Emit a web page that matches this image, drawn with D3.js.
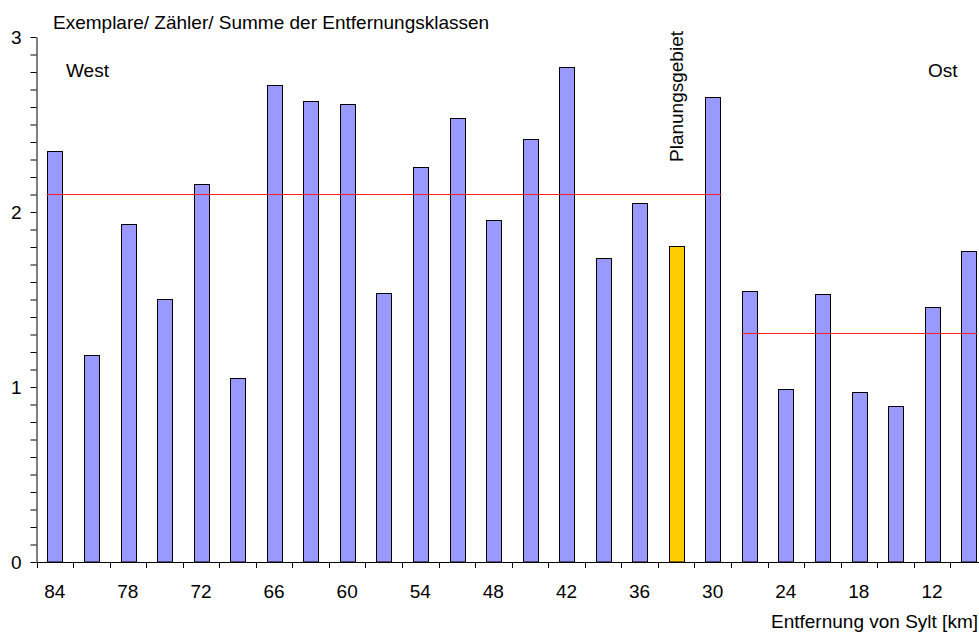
<!DOCTYPE html>
<html>
<head>
<meta charset="utf-8">
<script src="https://cdn.jsdelivr.net/npm/d3@7"></script>
<style>
  body { margin: 0; background: #fff; }
  text { font-family: "Liberation Sans", Arial, sans-serif; font-size: 19px; fill: #000; }
</style>
</head>
<body>
<div id="chart"></div>
<script>
// distance classes (km from Sylt), west -> east
var km = [84, 81, 78, 75, 72, 69, 66, 63, 60, 57, 54, 51, 48, 45, 42, 39, 36, 33, 30, 27, 24, 21, 18, 15, 12, 9];
var values = [2.35, 1.185, 1.93, 1.505, 2.16, 1.05, 2.725, 2.635, 2.615, 1.54, 2.255, 2.54, 1.955,
  2.415, 2.83, 1.735, 2.05, 1.805, 2.655, 1.55, 0.99, 1.53, 0.97, 0.89, 1.455, 1.775];
var westKm = [84, 81, 78, 75, 72, 69, 66, 63, 60, 57, 54, 51, 48, 45, 42, 39, 36, 33, 30];
var eastKm = [27, 24, 21, 18, 15, 12, 9];
var planKm = 33;
var xTickLabels = [84, 78, 72, 66, 60, 54, 48, 42, 36, 30, 24, 18, 12];
var yTicks = [0, 1, 2, 3];

var data = km.map(function (k, i) { return { km: k, value: values[i] }; });

var W = 979, H = 634;
var plotLeft = 36.5, plotRight = 986.8, plotTop = 37, plotBottom = 562;

var svg = d3.select("#chart").append("svg").attr("width", W).attr("height", H);

// scales
var slot = d3.scaleBand().domain(km).range([plotLeft, plotRight]);
var y = d3.scaleLinear().domain([0, 3]).range([plotBottom, plotTop]);
var barW = slot.bandwidth() * 0.4;
function barX(k) { return slot(k) + (slot.bandwidth() - barW) / 2; }

// bars
svg.append("g").selectAll("rect")
  .data(data)
  .join("rect")
  .attr("x", d => Math.round(barX(d.km)) + 0.5)
  .attr("y", d => Math.round(y(d.value)) + 0.5)
  .attr("width", Math.round(barW))
  .attr("height", d => y(0) - Math.round(y(d.value)) - 0.5)
  .attr("fill", d => d.km === planKm ? "#ffcc00" : "#9999ff")
  .attr("stroke", "#000")
  .attr("stroke-width", 1);

// mean lines for west and east
function meanLine(keys) {
  var m = d3.mean(data.filter(d => keys.indexOf(d.km) >= 0), d => d.value);
  var x1 = barX(keys[0]), x2 = barX(keys[keys.length - 1]) + barW + 1;
  svg.append("line")
    .attr("x1", x1).attr("x2", x2)
    .attr("y1", Math.round(y(m)) + 0.5).attr("y2", Math.round(y(m)) + 0.5)
    .attr("stroke", "#ff2020").attr("stroke-width", 1)
    .attr("shape-rendering", "crispEdges");
}
meanLine(westKm);
meanLine(eastKm);

// y axis
var yAxis = d3.axisLeft(y)
  .tickValues(d3.range(0, 31).map(i => i / 10))
  .tickFormat(d => yTicks.indexOf(d) >= 0 ? d : "")
  .tickSize(6).tickSizeOuter(0).tickPadding(9);
var yAxisG = svg.append("g").attr("transform", "translate(" + plotLeft + ",0)").call(yAxis);
yAxisG.attr("font-family", null).attr("font-size", null);
yAxisG.selectAll("line").attr("stroke", "#000");
yAxisG.select(".domain").attr("stroke", "#000");

// x axis (ticks between classes, labels on every other class)
var xg = svg.append("g");
xg.append("line")
  .attr("x1", plotLeft).attr("x2", plotRight)
  .attr("y1", plotBottom + 0.5).attr("y2", plotBottom + 0.5)
  .attr("stroke", "#000");
xg.selectAll("line.tick")
  .data(km.concat(["end"]))
  .join("line")
  .attr("class", "tick")
  .attr("x1", d => Math.round(d === "end" ? plotRight : slot(d)) + 0.5)
  .attr("x2", d => Math.round(d === "end" ? plotRight : slot(d)) + 0.5)
  .attr("y1", plotBottom).attr("y2", plotBottom + 6)
  .attr("stroke", "#000");
xg.selectAll("text")
  .data(xTickLabels)
  .join("text")
  .attr("x", d => slot(d) + slot.bandwidth() / 2)
  .attr("y", 598)
  .attr("text-anchor", "middle")
  .text(d => d);

// titles and annotations
svg.append("text").attr("x", 53).attr("y", 28.5).text("Exemplare/ Zähler/ Summe der Entfernungsklassen");
svg.append("text").attr("x", 978).attr("y", 627.5).attr("text-anchor", "end").text("Entfernung von Sylt [km]");
svg.append("text").attr("x", 66).attr("y", 76.5).text("West");
svg.append("text").attr("x", 928).attr("y", 76.5).text("Ost");
svg.append("text")
  .attr("transform", "translate(" + 683 + "," + 162 + ") rotate(-90)")
  .text("Planungsgebiet");
</script>
</body>
</html>
